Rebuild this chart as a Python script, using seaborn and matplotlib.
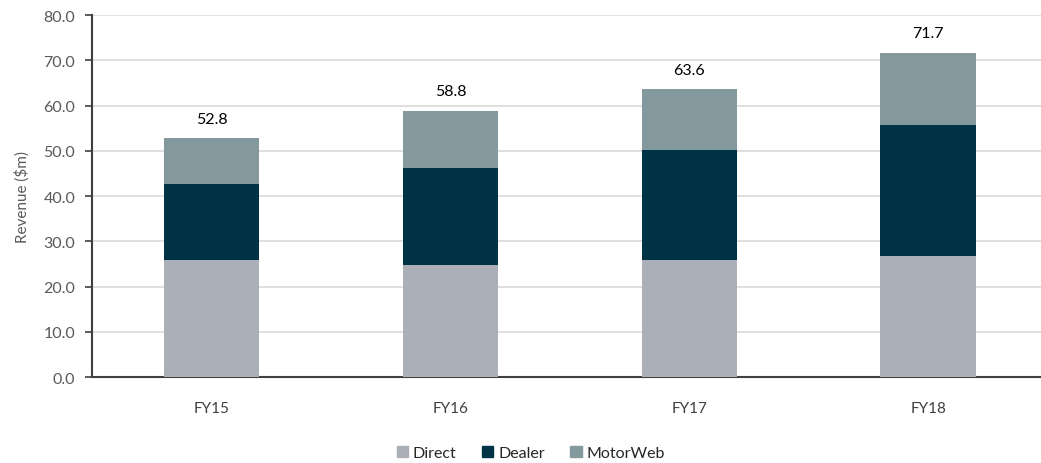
import matplotlib
matplotlib.use("Agg")
import matplotlib.pyplot as plt
import matplotlib.patches as mpatches
import seaborn as sns
import pandas as pd
import numpy as np

years = ["FY15", "FY16", "FY17", "FY18"]
direct = [25.8, 24.8, 25.9, 26.8]
dealer = [16.8, 21.4, 24.3, 29.0]
motorweb = [10.2, 12.6, 13.4, 15.9]
totals = [52.8, 58.8, 63.6, 71.7]

colors = {"Direct": "#abb0b8", "Dealer": "#003246", "MotorWeb": "#83999e"}

df = pd.DataFrame({"Year": years, "Direct": direct, "Dealer": dealer, "MotorWeb": motorweb})
df["lvl1"] = df["Direct"]
df["lvl2"] = df["Direct"] + df["Dealer"]
df["lvl3"] = df["lvl2"] + df["MotorWeb"]

sns.set_style("white")
plt.rcParams["font.family"] = ["Lato", "DejaVu Sans"]

fig = plt.figure(figsize=(10.41, 4.64), dpi=100)
ax = fig.add_axes([0.0884, 0.1853, 0.918, 0.7802])

# stacked look: draw the cumulative layers from the top down
for col, name in [("lvl3", "MotorWeb"), ("lvl2", "Dealer"), ("lvl1", "Direct")]:
    sns.barplot(data=df, x="Year", y=col, color=colors[name], width=0.4,
                saturation=1, ax=ax, zorder=3, linewidth=0)

for i, t in enumerate(totals):
    ax.annotate(f"{t:.1f}", (i, df["lvl3"][i]), xytext=(0, 9), textcoords="offset points",
                ha="center", va="bottom", fontsize=11.5, color="#000000")

ax.set_ylim(0, 80)
ax.set_xlim(-0.5, 3.5)
ax.set_yticks(np.arange(0, 81, 10))
ax.set_yticklabels([f"{v:.1f}" for v in np.arange(0, 81, 10)])
ax.yaxis.grid(True, color="#d9d9d9", linewidth=1.2, zorder=0)
ax.set_axisbelow(True)

ax.set_xticks(range(4))
ax.set_xticklabels(years)
ax.set_xticks([-0.5, 0.5, 1.5, 2.5, 3.5], minor=True)
ax.tick_params(axis="x", which="major", length=0, pad=17, labelsize=11, labelcolor="#404040")
ax.tick_params(axis="x", which="minor", length=5, width=1.2, color="#404040", direction="out")
ax.tick_params(axis="y", length=5, width=1.2, color="#404040", direction="out", left=True,
               labelsize=11.5, labelcolor="#595959", pad=7)

for s in ["top", "right"]:
    ax.spines[s].set_visible(False)
for s in ["left", "bottom"]:
    ax.spines[s].set_color("#404040")
    ax.spines[s].set_linewidth(1.5)

ax.set_xlabel("")
ax.set_ylabel("Revenue ($m)", fontsize=11, color="#595959", labelpad=10)

handles = [mpatches.Patch(color=colors[n], label=n) for n in ["Direct", "Dealer", "MotorWeb"]]
fig.legend(handles=handles, loc="center", bbox_to_anchor=(0.51, 0.022), ncol=3, frameon=False,
           fontsize=11.5, handlelength=0.7, handleheight=0.7, handletextpad=0.3, columnspacing=1.6)

fig.savefig("out.png", dpi=100)
